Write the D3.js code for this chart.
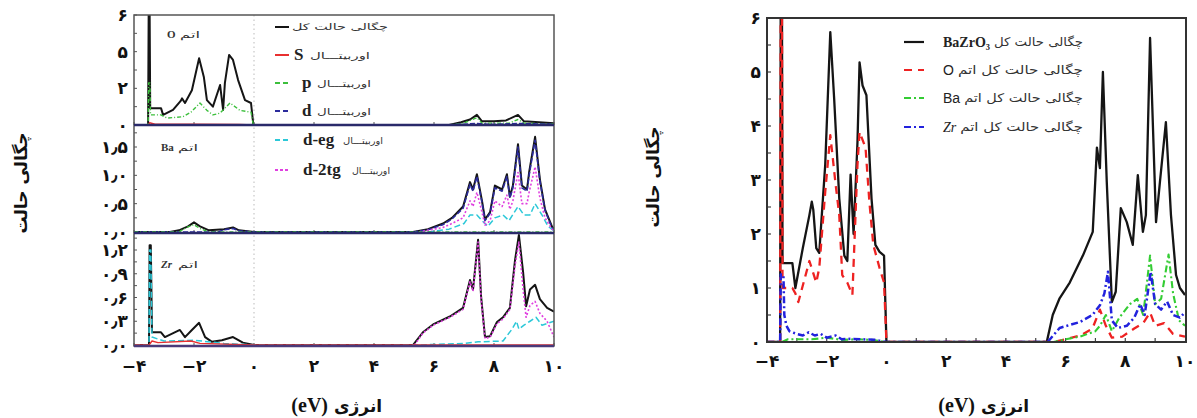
<!DOCTYPE html>
<html><head><meta charset="utf-8">
<script src="https://cdn.jsdelivr.net/npm/d3@7"></script>
<style>body{margin:0;background:#fff}svg{display:block}</style>
</head><body><svg id="c" width="1197" height="418"></svg>
<script>
// ---------- tick labels ----------
const xTicks = [-4,-2,0,2,4,6,8,10];
const xTickLabels = ["−۴","−۲","۰","۲","۴","۶","۸","۱۰"];
const oTicks = [0,2,4,6];            const oTickLabels = ["۰","۲","۵","۶"];
const baTicks = [0,0.5,1.0,1.5];     const baTickLabels = ["۰٫۰","۰٫۵","۱٫۰","۱٫۵"];
const zrTicks = [0,0.3,0.6,0.9,1.2]; const zrTickLabels = ["۰٫۰","۰٫۳","۰٫۶","۰٫۹","۱٫۲"];
const rTicks = [0,1,2,3,4,5,6];      const rTickLabels = ["۰","۱","۲","۳","۴","۵","۶"];
const yTitle = "چگالی حالت";
const xTitleFa = "انرژی", xTitleUnit = "(eV)";
const atomWord = "اتم";
const leftLegend = [
  {lat:"", fa:"چگالی حالت کل", key:"tot"},
  {lat:"S", fa:"اوربیتـــال", key:"s"},
  {lat:"p", fa:"اوربیتـــال", key:"p"},
  {lat:"d", fa:"اوربیتـــال", key:"d"},
  {lat:"d-eg", fa:"اوربیتـــال", key:"deg"},
  {lat:"d-2tg", fa:"اوربیتـــال", key:"d2tg"}
];
const rightLegend = [
  {lat:"BaZrO₃", fa:"چگالی حالت کل", key:"tot"},
  {lat:"O", fa:"چگالی حالت کل اتم", key:"O"},
  {lat:"Ba", fa:"چگالی حالت کل اتم", key:"Ba"},
  {lat:"Zr", fa:"چگالی حالت کل اتم", key:"Zr"}
];

// ---------- left: O atom ----------
const O_tot = [[-4,0],[-3.53,0],[-3.51,6.5],[-3.48,6.5],[-3.46,0.92],[-3.1,0.92],[-3.03,0.55],[-2.7,0.82],[-2.45,1.3],[-2.4,1.45],[-2.3,1.2],[-2.07,1.9],[-1.83,3.64],[-1.67,2.6],[-1.57,1.36],[-1.37,1.0],[-1.13,2.18],[-1.03,0.82],[-0.97,2.3],[-0.83,3.82],[-0.7,3.55],[-0.53,2.45],[-0.3,1.36],[-0.1,1.2],[-0.02,0],[6.5,0],[6.9,0.15],[7.2,0.3],[7.43,0.55],[7.6,0.2],[8.0,0.2],[8.4,0.25],[8.8,0.55],[9.0,0.2],[9.5,0.15],[10,0.1]];
const O_p = [[-4,0],[-3.53,0],[-3.51,2.3],[-3.47,2.3],[-3.45,0.55],[-3.1,0.55],[-2.9,0.38],[-2.37,0.45],[-2.1,0.7],[-1.8,1.2],[-1.57,0.8],[-1.37,0.55],[-1.13,0.65],[-0.8,1.2],[-0.47,0.8],[-0.1,0.7],[-0.02,0],[6.5,0],[7.0,0.1],[7.43,0.4],[7.6,0.1],[8.5,0.1],[8.8,0.3],[9.0,0.1],[10,0.05]];
const O_s = [[-4,0],[-3.52,0],[-3.48,0.12],[-3.3,0.05],[-2.0,0.04],[-0.5,0.03],[0,0],[10,0]];
const O_d = [[-4,0],[6.5,0],[7.4,0.08],[8.0,0.03],[8.8,0.08],[10,0.04]];

// ---------- left: Ba atom ----------
const Ba_tot = [[-4,0],[-2.8,0],[-2.5,0.03],[-2.2,0.1],[-2.0,0.17],[-1.8,0.1],[-1.5,0.03],[-1.0,0.05],[-0.7,0.08],[-0.5,0.03],[0,0],[5.3,0],[5.8,0.05],[6.3,0.15],[6.6,0.25],[6.97,0.45],[7.2,0.88],[7.3,0.75],[7.43,1.02],[7.6,0.55],[7.7,0.22],[7.87,0.35],[8.03,0.82],[8.27,0.75],[8.43,1.02],[8.53,0.62],[8.63,0.82],[8.8,1.55],[8.93,0.82],[9.1,0.75],[9.17,1.05],[9.37,1.68],[9.53,0.93],[9.7,0.4],[9.93,0.1],[10,0.05]];
const Ba_p = [[-4,0],[-2.5,0],[-2.25,0.08],[-2.0,0.13],[-1.8,0.06],[-1.5,0],[10,0]];
const Ba_d = [[-4,0],[-1.2,0],[-1.0,0.04],[-0.7,0.06],[-0.5,0.02],[0,0],[5.35,0],[5.8,0.04],[6.3,0.13],[6.6,0.23],[6.97,0.42],[7.2,0.84],[7.3,0.72],[7.43,0.98],[7.6,0.52],[7.7,0.2],[7.87,0.33],[8.03,0.78],[8.27,0.72],[8.43,0.98],[8.53,0.6],[8.63,0.78],[8.8,1.5],[8.93,0.78],[9.1,0.72],[9.17,1.0],[9.37,1.62],[9.53,0.9],[9.7,0.38],[9.93,0.08],[10,0.04]];
const Ba_d2tg = [[5.5,0],[6.3,0.08],[6.6,0.15],[6.97,0.25],[7.2,0.55],[7.3,0.45],[7.43,0.7],[7.6,0.35],[7.7,0.12],[7.87,0.2],[8.03,0.55],[8.27,0.45],[8.43,0.65],[8.53,0.4],[8.63,0.55],[8.8,1.05],[8.93,0.5],[9.1,0.5],[9.17,0.7],[9.37,1.15],[9.53,0.6],[9.7,0.25],[9.93,0.05],[10,0.03]];
const Ba_deg = [[5.8,0],[6.5,0.05],[7.0,0.15],[7.2,0.3],[7.43,0.3],[7.6,0.2],[7.8,0.1],[8.03,0.25],[8.3,0.3],[8.5,0.2],[8.8,0.45],[9.0,0.3],[9.2,0.3],[9.37,0.5],[9.6,0.3],[9.8,0.1],[10,0.02]];

// ---------- left: Zr atom ----------
const Zr_tot = [[-4,0],[-3.5,0],[-3.48,1.26],[-3.44,1.26],[-3.4,0.16],[-3.1,0.16],[-2.97,0.1],[-2.47,0.19],[-2.3,0.1],[-2.07,0.19],[-1.83,0.28],[-1.63,0.1],[-1.4,0.04],[-1.07,0.06],[-0.7,0.1],[-0.37,0.03],[0,0],[5.3,0],[5.63,0.16],[5.97,0.26],[6.53,0.36],[6.97,0.47],[7.2,0.82],[7.3,0.7],[7.47,1.33],[7.57,0.61],[7.7,0.1],[7.87,0.11],[8.1,0.29],[8.3,0.35],[8.53,0.47],[8.7,1.07],[8.83,1.39],[8.97,0.92],[9.07,0.49],[9.2,0.7],[9.37,0.76],[9.53,0.58],[9.77,0.47],[10,0.42]];
const Zr_d2tg = [[5.35,0],[5.63,0.15],[5.97,0.25],[6.53,0.35],[6.97,0.45],[7.2,0.8],[7.3,0.68],[7.47,1.3],[7.57,0.58],[7.7,0.08],[7.87,0.1],[8.1,0.27],[8.3,0.33],[8.53,0.45],[8.7,1.0],[8.83,1.3],[8.97,0.7],[9.07,0.35],[9.2,0.5],[9.37,0.55],[9.53,0.4],[9.77,0.3],[10,0.1]];
const Zr_deg = [[-4,0],[-3.5,0],[-3.48,1.2],[-3.44,1.2],[-3.4,0.1],[-3.0,0.05],[-2.0,0.06],[-1.0,0.02],[0,0],[5.5,0],[7.0,0.02],[7.47,0.04],[8.3,0.05],[8.6,0.2],[8.75,0.3],[8.83,0.2],[9.0,0.25],[9.2,0.3],[9.4,0.35],[9.6,0.25],[10,0.3]];
const Zr_s = [[-4,0],[-3.5,0],[-3.4,0.05],[-3.2,0.03],[-2.1,0.05],[-1.8,0.02],[0,0],[10,0]];

// ---------- right: total & atom-projected DOS ----------
const R_tot = [[-4,0],[-3.56,0],[-3.54,6.5],[-3.5,6.5],[-3.48,1.46],[-3.15,1.46],[-3.05,1.0],[-2.8,1.74],[-2.58,2.35],[-2.5,2.6],[-2.45,2.45],[-2.35,1.74],[-2.25,1.65],[-2.05,3.28],[-1.88,5.74],[-1.75,4.5],[-1.58,2.66],[-1.41,1.6],[-1.31,1.5],[-1.2,3.1],[-1.1,2.0],[-0.97,3.7],[-0.9,5.18],[-0.8,4.75],[-0.67,4.57],[-0.5,2.66],[-0.37,1.8],[-0.23,1.67],[-0.08,1.6],[0,0],[5.37,0],[5.57,0.5],[5.8,0.81],[6.14,1.1],[6.58,1.6],[6.91,2.04],[7.05,3.6],[7.15,3.22],[7.25,5.0],[7.38,2.96],[7.55,0.74],[7.68,0.93],[7.85,2.48],[8.05,2.22],[8.25,1.8],[8.42,3.09],[8.59,2.04],[8.69,2.35],[8.83,5.63],[9.03,2.22],[9.16,2.96],[9.36,4.07],[9.53,2.35],[9.7,1.24],[9.83,1.0],[10,0.87]];
const R_O = [[-4,0],[-3.56,0],[-3.54,6.5],[-3.5,6.5],[-3.48,1.0],[-3.15,1.0],[-3.05,0.9],[-2.95,0.74],[-2.58,1.5],[-2.35,1.1],[-2.25,1.37],[-2.05,2.78],[-1.88,3.83],[-1.71,2.96],[-1.58,2.35],[-1.48,1.24],[-1.31,1.1],[-1.14,0.87],[-0.97,3.28],[-0.9,3.89],[-0.7,3.6],[-0.57,2.59],[-0.44,1.8],[-0.23,1.37],[-0.08,1.1],[0,0],[5.6,0],[6.0,0.05],[6.5,0.12],[6.9,0.25],[7.15,0.6],[7.35,0.3],[7.55,0.08],[7.9,0.1],[8.3,0.25],[8.6,0.35],[8.83,0.55],[9.0,0.3],[9.3,0.35],[9.6,0.15],[10,0.1]];
const R_Ba = [[-4,0],[-3.5,0],[-3.3,0.05],[-2.5,0.05],[-2.0,0.08],[-1.5,0.04],[-1.0,0.05],[-0.5,0.04],[0,0],[5.6,0],[6.0,0.05],[6.48,0.1],[7.0,0.2],[7.15,0.3],[7.35,0.5],[7.55,0.2],[7.8,0.45],[8.15,0.7],[8.4,0.8],[8.6,0.5],[8.83,1.6],[9.0,0.7],[9.2,0.8],[9.45,1.62],[9.6,0.9],[9.8,0.4],[10,0.3]];
const R_Zr = [[-4,0],[-3.56,0],[-3.54,1.25],[-3.45,1.25],[-3.42,0.5],[-3.35,0.3],[-3.25,0.2],[-3.0,0.15],[-2.8,0.12],[-2.6,0.18],[-2.4,0.12],[-2.2,0.15],[-2.0,0.08],[-1.7,0.12],[-1.5,0.05],[-1.2,0.06],[-0.8,0.05],[-0.4,0.04],[0,0],[5.4,0],[5.8,0.26],[6.48,0.37],[6.9,0.5],[7.15,0.68],[7.3,0.9],[7.42,1.3],[7.55,0.4],[7.75,0.26],[8.05,0.3],[8.3,0.45],[8.5,0.7],[8.65,0.5],[8.85,1.3],[9.0,0.7],[9.2,0.6],[9.4,0.75],[9.6,0.5],[9.83,0.45],[10,0.55]];

// ---------- styles ----------
const FA = "'DejaVu Sans', sans-serif";
const SERIF = "'Liberation Serif', 'DejaVu Serif', serif";
const SANS = "'Liberation Sans', Arial, sans-serif";
const LST = {
  tot:{c:"#151515",w:2,d:null},
  s:{c:"#e83030",w:1.4,d:null},
  p:{c:"#3cbf3c",w:1.4,d:"4,2,1,2"},
  d:{c:"#2b2b9c",w:1.6,d:"5,2"},
  deg:{c:"#2cc8d8",w:1.5,d:"6,3"},
  d2tg:{c:"#e040e0",w:1.6,d:"2,2"}
};
const RST = {
  tot:{c:"#151515",w:2.3,d:null},
  O:{c:"#ee2222",w:2.3,d:"8,6"},
  Ba:{c:"#33cc33",w:2.1,d:"7,3,2,3"},
  Zr:{c:"#2222dd",w:2.5,d:"7,3,2,3"}
};

const svg = d3.select("#c");
const defs = svg.append("defs");
let clipId = 0;
function clip(x0,y0,w,h){
  const id="cl"+(clipId++);
  defs.append("clipPath").attr("id",id).append("rect").attr("x",x0).attr("y",y0).attr("width",w).attr("height",h);
  return "url(#"+id+")";
}
function drawLine(g,data,x,y,st){
  const line = d3.line().x(d=>x(d[0])).y(d=>y(d[1]));
  g.append("path").attr("d",line(data)).attr("fill","none")
   .attr("stroke",st.c).attr("stroke-width",st.w)
   .attr("stroke-dasharray",st.d).attr("stroke-linejoin","round");
}
function faText(g,x,y,str,size,len,weight){
  const t=g.append("text").attr("x",x).attr("y",y).attr("font-family",FA).attr("font-size",size)
   .attr("font-weight",weight||"normal").attr("fill","#333").text(str);
  if(len) t.attr("textLength",len).attr("lengthAdjust","spacingAndGlyphs");
  return t;
}

// ================= LEFT FIGURE =================
const xL = d3.scaleLinear().domain([-4,10]).range([134,554]);
const panels = [
  {top:15,bot:125,y:d3.scaleLinear().domain([0,6]).range([125,15]),ticks:oTicks,labels:oTickLabels,minor:1,
   atom:"O",ay:38,series:[[O_tot,"tot"],[O_p,"p"],[O_s,"s"],[O_d,"d"]]},
  {top:125,bot:233,y:d3.scaleLinear().domain([0,1.5]).range([232,147]),ticks:baTicks,labels:baTickLabels,minor:0.25,
   atom:"Ba",ay:151,series:[[Ba_tot,"tot"],[Ba_d,"d"],[Ba_deg,"deg"],[Ba_d2tg,"d2tg"],[Ba_p,"p"]]},
  {top:233,bot:346,y:d3.scaleLinear().domain([0,1.2]).range([345,250]),ticks:zrTicks,labels:zrTickLabels,minor:0.15,
   atom:"Zr",ay:268,series:[[Zr_tot,"tot"],[Zr_deg,"deg"],[Zr_d2tg,"d2tg"],[Zr_s,"s"]]}
];
const gL = svg.append("g");
gL.append("line").attr("x1",xL(0)).attr("x2",xL(0)).attr("y1",15).attr("y2",346)
  .attr("stroke","#bbb").attr("stroke-width",1).attr("stroke-dasharray","1.5,3");
panels.forEach(p=>{
  const g = gL.append("g");
  const ymax = p.y.invert(p.top);
  for(let v=0; v<=ymax+1e-6; v+=p.minor){
    g.append("line").attr("x1",xL.range()[0]).attr("x2",xL.range()[0]+3).attr("y1",p.y(v)).attr("y2",p.y(v)).attr("stroke","#555").attr("stroke-width",1);
  }
  xTicks.forEach(t=>{
    g.append("line").attr("x1",xL(t)).attr("x2",xL(t)).attr("y1",p.bot).attr("y2",p.bot-3).attr("stroke","#555").attr("stroke-width",1);
  });
  p.ticks.forEach((t,i)=>{
    g.append("text").attr("x",128).attr("y",p.y(t)+6).attr("text-anchor","end")
     .attr("font-family",FA).attr("font-weight","bold").attr("font-size",17).attr("fill","#111").text(p.labels[i]);
  });
  const cg = g.append("g").attr("clip-path",clip(134,p.top,420,p.bot-p.top));
  p.series.forEach(([data,key])=>drawLine(cg,data,xL,p.y,LST[key]));
  g.append("text").attr("x",p.atom==="O"?167:161).attr("y",p.ay).attr("font-family",SERIF).attr("font-weight","bold")
   .attr("font-style",p.atom==="Zr"?"italic":"normal").attr("font-size",11).attr("fill","#333").text(p.atom);
  faText(g,p.atom==="O"?180:178,p.ay,atomWord,9,20);
});
gL.append("rect").attr("x",134).attr("y",15).attr("width",420).attr("height",331).attr("fill","none").attr("stroke","#555").attr("stroke-width",1.5);
[125,233].forEach(yy=>gL.append("line").attr("x1",134).attr("x2",554).attr("y1",yy).attr("y2",yy).attr("stroke","#2a2a6a").attr("stroke-width",2.5));
gL.append("line").attr("x1",134).attr("x2",554).attr("y1",346).attr("y2",346).attr("stroke","#4a3a7a").attr("stroke-width",2.5);
xTicks.forEach((t,i)=>{
  gL.append("text").attr("x",xL(t)).attr("y",372).attr("text-anchor","middle").attr("font-family",FA)
   .attr("font-weight","bold").attr("font-size",17).attr("fill","#111").text(xTickLabels[i]);
});
// left legend: [row y, latin x, arabic x, arabic length]
const lgPos = [[27,0,292,96],[55,294,310,60],[83,302,317,54],[111,302,317,54],[140,303,343,40],[170,303,352,38]];
leftLegend.forEach((L,i)=>{
  const st=LST[L.key], [yy,lx,ax,al]=lgPos[i];
  gL.append("line").attr("x1",275).attr("x2",289).attr("y1",yy).attr("y2",yy).attr("stroke",st.c).attr("stroke-width",2).attr("stroke-dasharray",st.d?(L.key==="d2tg"?"3,2":"5,3"):null);
  if(L.lat){
    gL.append("text").attr("x",lx).attr("y",yy+5).attr("font-family",SERIF).attr("font-weight","bold").attr("font-size",17).attr("fill","#222").text(L.lat);
  }
  faText(gL,ax,yy+(L.lat?4:3),L.fa,9,al);
});

// ================= RIGHT FIGURE =================
const xR = d3.scaleLinear().domain([-4,10]).range([767,1185]);
const yR = d3.scaleLinear().domain([0,6]).range([342,18]);
const gR = svg.append("g");
for(let v=0.5; v<6; v+=0.5){
  gR.append("line").attr("x1",767).attr("x2",771).attr("y1",yR(v)).attr("y2",yR(v)).attr("stroke","#444").attr("stroke-width",1.2);
}
for(let e=-3; e<10; e+=1){
  gR.append("line").attr("x1",xR(e)).attr("x2",xR(e)).attr("y1",342).attr("y2",338).attr("stroke","#444").attr("stroke-width",1.2);
}
const cR = gR.append("g").attr("clip-path",clip(767,18,419,324));
drawLine(cR,R_tot,xR,yR,RST.tot);
drawLine(cR,R_O,xR,yR,RST.O);
drawLine(cR,R_Ba,xR,yR,RST.Ba);
drawLine(cR,R_Zr,xR,yR,RST.Zr);
gR.append("rect").attr("x",767).attr("y",18).attr("width",419).attr("height",324).attr("fill","none").attr("stroke","#333").attr("stroke-width",2);
rTicks.forEach((t,i)=>{
  gR.append("text").attr("x",761).attr("y",yR(t)+6).attr("text-anchor","end").attr("font-family",FA)
   .attr("font-weight","bold").attr("font-size",17).attr("fill","#111").text(rTickLabels[i]);
});
xTicks.forEach((t,i)=>{
  gR.append("text").attr("x",xR(t)).attr("y",367).attr("text-anchor","middle").attr("font-family",FA)
   .attr("font-weight","bold").attr("font-size",17).attr("fill","#111").text(xTickLabels[i]);
});
const rgRows=[42,70,98,127];
rightLegend.forEach((L,i)=>{
  const st=RST[L.key], yy=rgRows[i];
  gR.append("line").attr("x1",904).attr("x2",924).attr("y1",yy).attr("y2",yy).attr("stroke",st.c).attr("stroke-width",2.2).attr("stroke-dasharray",st.d);
  const lt = gR.append("text").attr("x",943).attr("y",yy+5).attr("font-family",L.key==="O"||L.key==="Ba"?SANS:SERIF)
   .attr("font-weight",L.key==="tot"?"bold":"normal").attr("font-style",L.key==="Zr"?"italic":"normal")
   .attr("font-size",14).attr("fill","#222").text(L.lat);
  const w = lt.node().getComputedTextLength();
  const ax = 943+w+4;
  faText(gR,ax,yy+4,L.fa,12,1083-ax);
});

// ================= AXIS TITLES =================
function yTitleAt(x,y){
  svg.append("text").attr("transform",`translate(${x},${y}) rotate(-90)`).attr("text-anchor","middle")
   .attr("font-family",FA).attr("font-weight","bold").attr("font-size",17).attr("fill","#111").text(yTitle);
}
yTitleAt(27,183); yTitleAt(659,177);
function xTitleAt(cx,y){
  svg.append("text").attr("x",cx-2).attr("y",y).attr("text-anchor","end").attr("font-family",SERIF)
   .attr("font-weight","bold").attr("font-size",20).attr("fill","#111").text(xTitleUnit);
  svg.append("text").attr("x",cx+4).attr("y",y).attr("text-anchor","start").attr("font-family",FA)
   .attr("font-weight","bold").attr("font-size",17).attr("fill","#111").text(xTitleFa);
}
xTitleAt(330,412); xTitleAt(977,412);
</script></body></html>
